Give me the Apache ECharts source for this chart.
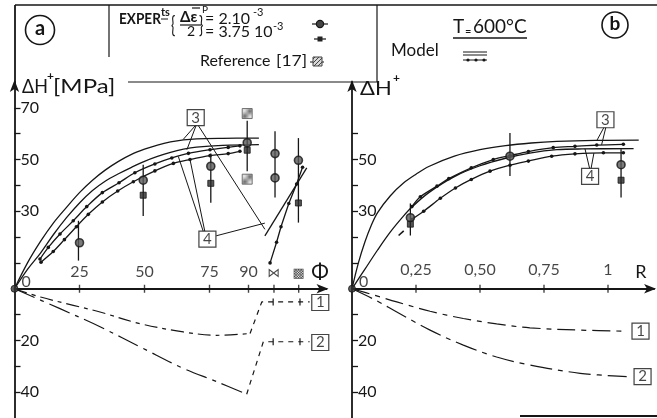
<!DOCTYPE html>
<html><head><meta charset="utf-8">
<script src="https://cdn.jsdelivr.net/npm/echarts@6/dist/echarts.min.js"></script>
<style>html,body{margin:0;padding:0;background:#fff}#c{width:657px;height:418px}</style>
</head><body><div id="c"></div>
<script>
// ================= DATA =================
// ---- Panel (a): ΔH+ [MPa] versus Φ ----
const aXTickValues = [25, 50, 75, 90, 99.8, 109.3];
const aXTickLabels = ['25', '50', '75', '90', '⋈', '▩'];
const aYLabelValues = [70, 50, 30, -20, -40];
const aYTickValues = [-40, -30, -20, -10, 10, 20, 30, 40, 50, 60, 70];

// model curves (plain) labelled 3
const aModelTop = [[0,0],[5,10],[10,18.3],[15,25.5],[20,31.5],[25,37.2],[30,42],[35,46],[40,49.3],[45,52],[50,54],[55,55.6],[60,56.8],[65,57.6],[70,58],[80,58.2],[94,58.3]];
const aModelMid = [[0,0],[5,7.5],[10,13.8],[15,21],[20,27.5],[25,33.2],[30,38],[35,41.7],[40,44.5],[45,47],[50,49.3],[55,51.2],[60,52.8],[65,54],[70,54.8],[80,55.5],[94,55.8]];
// model curves with dots labelled 4
const aDotUpper = [[9.8,11.5],[13,16],[17.5,21.2],[22.6,26.3],[27.8,31.8],[33.8,37.2],[40.2,41],[46.3,44.9],[54,48.3],[60.5,50.6],[66.9,52.4],[75.2,53.8],[82.2,54.7],[86.7,55.3]];
const aDotLower = [[10.2,10.3],[14.9,14.4],[19.2,19],[23.8,24],[28.4,28.8],[33.8,33.6],[39.7,37.8],[45.7,41.4],[54,45.6],[61.1,48.5],[67.5,50],[75.2,51.5],[82.2,52.3],[86.7,53.2]];
// branches after the non-proportional step
const aBranchPlain = [[96.3,20.5],[112.4,46.8]];
const aBranchDots = [[98.3,10],[100.8,18],[102.5,24],[105.5,33],[108.5,40.5],[110.8,47]];
// negative curves 1 and 2
const aNeg1Curve = [[0,0],[10,-3.2],[22.6,-6.4],[32.9,-9],[48.3,-13.5],[64.9,-16.7],[77.7,-18],[90.6,-17.3]];
const aNeg1Step = [[90.6,-17.3],[95.1,-5.1],[113.5,-5.1]];
const aNeg1Ticks = [[99.5,-5.1],[109.8,-5.1]];
const aNeg2Curve = [[0,0],[17.5,-7.7],[32.9,-14.7],[49.5,-23.1],[64.9,-30.8],[77.7,-35.9],[89.3,-40.8]];
const aNeg2Step = [[89.3,-40.8],[95.7,-20.5],[113.5,-20.5]];
const aNeg2Ticks = [[99.5,-20.5],[109.8,-20.5]];
// experiments
const aCircleX = [25, 49.5, 75.5, 89.5, 100.2, 100.2, 109.2];
const aCircleY = [17.8, 42, 47.4, 56.5, 52.3, 42.9, 49.7];
const aSquareX = [49.5, 75.5, 89.5, 109.2];
const aSquareY = [36.2, 40.8, 53.6, 33.2];
const aRefX = [89.5, 89.5];
const aRefY = [67.8, 42.4];
const aErrX = [24.6, 49.5, 75.5, 89.5, 100.2, 109.2];
const aErrLo = [10.9, 28.2, 33.3, 45.5, 35.3, 25.6];
const aErrHi = [26.3, 48, 52.3, 65, 60.9, 58.3];
// call-out boxes and leaders
const aBoxText = ['3', '4', '1', '2'];
const aBoxPos = [[69.7,66.2],[74.2,19.2],[117.6,-5.3],[117.6,-20.8]];
const aLeaders = [
  [[69.7,63.3],[64.9,57.8]], [[69.9,63.3],[66.3,53.8]], [[70.6,63.3],[96.3,23]],
  [[72.6,22.2],[63,51.2]], [[73.2,22.2],[67.5,50]], [[77.6,20.5],[96.3,25.4]]
];

// ---- Panel (b): ΔH+ versus R ----
const bXTickValues = [0.25, 0.5, 0.75, 1];
const bXTickLabels = ['0,25', '0,50', '0,75', '1'];
const bYLabelValues = [50, 30, -20, -40];
const bYTickValues = [-40, -30, -20, -10, 10, 20, 30, 40, 50, 60];
const bModelTop = [[0,0],[0.025,10],[0.05,18],[0.075,24.5],[0.1,29.5],[0.15,36],[0.2,40.8],[0.25,44.3],[0.3,47.3],[0.4,51.3],[0.5,53.8],[0.6,55.4],[0.7,56.4],[0.8,57],[0.95,57.4],[1.12,57.5]];
const bModelMid = [[0,0],[0.05,7.5],[0.1,15],[0.15,22],[0.2,28],[0.234,31.6],[0.3,37.2],[0.4,43.4],[0.5,47.6],[0.6,50.5],[0.7,52.6],[0.8,53.8],[0.9,54.1],[1.1,54.2]];
const bDotUpper = [[0.234,31.8],[0.267,35.6],[0.332,39.7],[0.378,42.6],[0.466,46.8],[0.552,50],[0.617,51.5],[0.689,53.1],[0.786,54.6],[0.871,55.1],[0.956,55.6],[1.06,55.9]];
const bDotLower = [[0.234,26.9],[0.28,30],[0.345,35],[0.404,39],[0.466,42.3],[0.539,45.5],[0.617,47.8],[0.689,49.4],[0.78,51.3],[0.871,52.2],[0.982,52.6],[1.06,52.6]];
const bStub = [[0.182,20.6],[0.202,22.4]];
const bNeg1 = [[0,0],[0.088,-2.5],[0.175,-5.1],[0.305,-8.7],[0.435,-11.5],[0.565,-13.6],[0.695,-15.1],[0.891,-16],[1.073,-16.4]];
const bNeg2 = [[0,0],[0.088,-4.2],[0.175,-9],[0.305,-16],[0.435,-21.8],[0.565,-26.4],[0.695,-29.5],[0.891,-32.7],[1.073,-34]];
const bCircleX = [0.228, 0.617, 1.051];
const bCircleY = [27.5, 51.3, 48];
const bSquareX = [0.228, 1.051];
const bSquareY = [25, 42];
const bErrX = [0.228, 0.617, 1.051];
const bErrLo = [20.6, 43.6, 35.3];
const bErrHi = [33, 60.3, 54];
const bBoxText = ['3', '4', '1', '2'];
const bBoxPos = [[0.99,65.4],[0.93,43.5],[1.127,-16.4],[1.135,-34]];
const bLeaders = [
  [[0.985,62.6],[0.956,57.3]], [[0.992,62.6],[0.975,55.7]],
  [[0.928,46.6],[0.91,54.2]], [[0.934,46.6],[0.945,52.5]]
];

// ================= CHART =================
const INK = '#161616';
const FONT = 'Lato, "DejaVu Sans", sans-serif';

const hatch = document.createElement('canvas');
hatch.width = 4; hatch.height = 4;
(function(){const c=hatch.getContext('2d');c.fillStyle='#d8d8d8';c.fillRect(0,0,4,4);c.strokeStyle='#444';c.lineWidth=1;c.beginPath();c.moveTo(0,4);c.lineTo(4,0);c.stroke();})();
const hatchFill = {image: hatch, repeat: 'repeat'};

const zip = (xs, ys) => xs.map((x, i) => [x, ys[i]]);

function line(data, g, extra) {
  return Object.assign({
    type: 'line', xAxisIndex: g, yAxisIndex: g, data: data,
    symbol: 'none', showSymbol: false, silent: true, animation: false, z: 3,
    lineStyle: {color: INK, width: 1.3}
  }, extra || {});
}
function dotted(data, g) {
  return line(data, g, {symbol: 'circle', showSymbol: true, symbolSize: 3.6,
    itemStyle: {color: INK}, smooth: 0.3});
}
function errBars(xs, lo, hi, g) {
  return {
    type: 'custom', xAxisIndex: g, yAxisIndex: g, silent: true, animation: false, z: 4,
    data: xs.map((x, i) => [x, lo[i], hi[i]]),
    encode: {x: 0, y: [1, 2]},
    renderItem: function (params, api) {
      const p1 = api.coord([api.value(0), api.value(1)]);
      const p2 = api.coord([api.value(0), api.value(2)]);
      return {type: 'line', shape: {x1: p1[0], y1: p1[1], x2: p2[0], y2: p2[1]},
        style: {stroke: INK, lineWidth: 1.3}};
    }
  };
}
function scatter(data, g, sym, size, style) {
  return {type: 'scatter', xAxisIndex: g, yAxisIndex: g, data: data, symbol: sym,
    symbolSize: size, silent: true, animation: false, z: 5, itemStyle: style};
}
function boxes(texts, pos, g) {
  return {type: 'scatter', xAxisIndex: g, yAxisIndex: g, silent: true, animation: false, z: 6,
    symbol: 'rect', symbolSize: [17, 16],
    itemStyle: {color: '#fff', borderColor: INK, borderWidth: 1.2},
    label: {show: true, position: 'inside', color: INK, fontSize: 15, fontFamily: FONT,
      formatter: p => texts[p.dataIndex]},
    data: pos};
}
function leaders(list, g) {
  return list.map(seg => line(seg, g, {lineStyle: {color: INK, width: 1}}));
}
// x-axis ticks and tick labels placed on the zero line through the scales
function xTicks(vals, g) {
  return scatter(vals.map(v => [v, 0]), g, 'rect', [1.4, 8], {color: INK});
}
function xLabels(vals, labels, g, dist) {
  return {type: 'scatter', xAxisIndex: g, yAxisIndex: g, silent: true, animation: false, z: 6,
    symbol: 'circle', symbolSize: 1, itemStyle: {color: 'rgba(0,0,0,0)'},
    data: vals.map((v, i) => {
      const small = labels[i].length === 1 && !/[0-9]/.test(labels[i]);
      return {value: [v, 0], label: {fontSize: small ? 13 : 16, distance: small ? dist + 1 : dist}};
    }),
    label: {show: true, position: 'top', color: INK, fontFamily: FONT, fontSize: 16,
      formatter: p => labels[p.dataIndex]}};
}
function xAxis(g, max) {
  return {
    type: 'value', gridIndex: g, min: 0, max: max,
    axisLine: {onZero: true, symbol: ['none', 'arrow'], symbolSize: [7, 12], symbolOffset: [0, 2],
      lineStyle: {color: INK, width: 1.8}},
    axisTick: {show: false}, axisLabel: {show: false}, splitLine: {show: false}
  };
}
function yAxis(g, labelVals, tickVals) {
  return {
    type: 'value', gridIndex: g, min: -50, max: 80, interval: 10,
    axisLine: {onZero: false, symbol: ['none', 'arrow'], symbolSize: [7, 12], symbolOffset: [0, 2],
      lineStyle: {color: INK, width: 1.8}},
    axisTick: {show: true, inside: true, length: 6, customValues: tickVals, lineStyle: {color: INK, width: 1.3}},
    axisLabel: {show: true, inside: true, margin: 6, customValues: labelVals, color: INK,
      fontSize: 16, fontFamily: FONT, formatter: v => String(Math.abs(v))},
    splitLine: {show: false}
  };
}
const originPt = (g) => ({
  type: 'scatter', xAxisIndex: g, yAxisIndex: g, data: [[0, 0]], symbol: 'circle', symbolSize: 7,
  silent: true, animation: false, z: 6, itemStyle: {color: '#333', borderColor: INK, borderWidth: 1},
  label: {show: true, position: 'right', distance: 3, offset: [0, -7], formatter: '0', color: INK,
    fontSize: 16, fontFamily: FONT}
});
const circleStyle = {color: '#5a5a5a', borderColor: INK, borderWidth: 1.6};
const squareStyle = {color: '#2a2a2a', borderColor: INK, borderWidth: 1};
const refStyle = {color: hatchFill, borderColor: '#555', borderWidth: 1};
const SM = {smooth: 0.35};

const series = [].concat(
  // panel a, positive
  line(aModelTop, 0, SM),
  line(aModelMid, 0, SM),
  dotted(aDotUpper, 0),
  dotted(aDotLower, 0),
  line(aBranchPlain, 0),
  line(aBranchDots, 0, {symbol: 'circle', showSymbol: true, symbolSize: 3.6, itemStyle: {color: INK}}),
  // panel a, negative
  line(aNeg1Curve, 0, Object.assign({lineStyle: {color: INK, width: 1.2, type: [13, 5, 4, 5]}}, SM)),
  line(aNeg1Step, 0, {lineStyle: {color: INK, width: 1.2, type: [5, 5]}}),
  scatter(aNeg1Ticks, 0, 'rect', [1.5, 7], {color: INK}),
  line(aNeg2Curve, 0, Object.assign({lineStyle: {color: INK, width: 1.2, type: [22, 6, 4, 6]}}, SM)),
  line(aNeg2Step, 0, {lineStyle: {color: INK, width: 1.2, type: [5, 5]}}),
  scatter(aNeg2Ticks, 0, 'rect', [1.5, 7], {color: INK}),
  leaders(aLeaders, 0),
  errBars(aErrX, aErrLo, aErrHi, 0),
  scatter(zip(aCircleX, aCircleY), 0, 'circle', 8, circleStyle),
  scatter(zip(aSquareX, aSquareY), 0, 'rect', 6, squareStyle),
  scatter(zip(aRefX, aRefY), 0, 'rect', 10, refStyle),
  boxes(aBoxText, aBoxPos, 0),
  xTicks(aXTickValues, 0),
  xLabels(aXTickValues, aXTickLabels, 0, 8),
  originPt(0),
  // panel b
  line(bModelTop, 1, SM),
  line(bModelMid, 1, SM),
  dotted(bDotUpper, 1),
  dotted(bDotLower, 1),
  line(bStub, 1, {lineStyle: {color: INK, width: 1.6}}),
  line(bNeg1, 1, Object.assign({lineStyle: {color: INK, width: 1.2, type: [18, 6, 5, 6]}}, SM)),
  line(bNeg2, 1, Object.assign({lineStyle: {color: INK, width: 1.2, type: [22, 6, 5, 6]}}, SM)),
  leaders(bLeaders, 1),
  errBars(bErrX, bErrLo, bErrHi, 1),
  scatter(zip(bCircleX, bCircleY), 1, 'circle', 8, circleStyle),
  scatter(zip(bSquareX, bSquareY), 1, 'rect', 6, squareStyle),
  boxes(bBoxText, bBoxPos, 1),
  xTicks(bXTickValues, 1),
  xLabels(bXTickValues, bXTickLabels, 1, 10),
  originPt(1)
);

function T(text, x, y, size, opts) {
  opts = opts || {};
  const st = Object.assign({text: text, fontSize: size, fontFamily: FONT, fill: INK,
    align: 'left', verticalAlign: 'middle'}, opts.style || {});
  const el = {type: 'text', x: x, y: y, z: 10, silent: true, style: st};
  if (opts.scaleX) el.scaleX = opts.scaleX;
  return el;
}
function L(x1, y1, x2, y2, w) {
  return {type: 'line', z: 10, silent: true, shape: {x1, y1, x2, y2}, style: {stroke: INK, lineWidth: w || 1.2}};
}
function D(cx, cy) {
  return {type: 'circle', z: 10, silent: true, shape: {cx, cy, r: 1.6}, style: {fill: INK}};
}

const graphic = [
  // frame lines
  L(15, 5, 657, 5, 1.5), L(15, 5, 15, 86, 1.8),
  L(109, 5, 109, 57, 1.2), L(377, 5, 377, 82, 1.2), L(128, 82, 377, 82, 1.2),
  L(520, 416, 657, 416, 2),
  // panel labels
  {type: 'circle', shape: {cx: 40, cy: 30, r: 14.5}, style: {fill: 'none', stroke: INK, lineWidth: 1.6}, z: 10, silent: true},
  T('a', 40, 29, 20, {style: {align: 'center', fontWeight: 'bold'}}),
  {type: 'circle', shape: {cx: 615, cy: 25, r: 13}, style: {fill: 'none', stroke: INK, lineWidth: 1.6}, z: 10, silent: true},
  T('b', 615, 24, 19, {style: {align: 'center', fontWeight: 'bold'}}),
  // legend
  T('EXPER', 119, 19, 16, {scaleX: 0.85, style: {fontWeight: 'bold'}}),
  T('ts', 161, 12, 11, {style: {fontWeight: 'bold'}}),
  L(161, 19, 168, 19, 1),
  T('{', 171, 25, 24, {scaleX: 0.6}),
  T('Δε', 180, 17, 15, {style: {fontWeight: 'bold'}}),
  L(192, 8, 200, 8, 1.2),
  L(180, 25, 201, 25, 1.2),
  T('2', 187, 31, 14),
  T('P', 202, 10, 10),
  T('}', 199, 25, 24, {scaleX: 0.6}),
  T('= 2.10', 205, 19, 16),
  T('-3', 253, 12, 11),
  T('= 3.75 10', 205, 32, 16),
  T('-3', 273, 26, 11),
  L(312, 24, 328, 24, 1.2),
  {type: 'circle', shape: {cx: 320, cy: 24, r: 3.6}, style: {fill: '#444', stroke: INK, lineWidth: 1.2}, z: 10, silent: true},
  L(314, 39, 326, 39, 1.2),
  {type: 'rect', shape: {x: 317.5, y: 36.5, width: 5, height: 5}, style: {fill: '#222'}, z: 10, silent: true},
  T('Reference', 200, 61, 16),
  T('[17]', 276, 61, 16, {scaleX: 1.1}),
  L(310, 62, 324, 62, 1),
  {type: 'rect', shape: {x: 313, y: 57, width: 9, height: 9}, style: {fill: hatchFill, stroke: '#444', lineWidth: 1}, z: 11, silent: true},
  // axis titles
  T('ΔH', 22, 87, 20, {scaleX: 0.9}),
  T('+', 47, 76, 12, {style: {fontWeight: 'bold'}}),
  T('[MPa]', 53, 87, 20, {scaleX: 1.2}),
  T('ΔH', 360, 89, 20, {scaleX: 1.1}),
  T('+', 393, 78, 12, {style: {fontWeight: 'bold'}}),
  T('Φ', 320, 272, 21, {style: {align: 'center'}}),
  T('R', 641, 272, 18, {style: {align: 'center'}}),
  // conditions
  T('T', 453, 27, 19),
  T('=', 465, 31, 11),
  T('600°C', 473, 27, 19),
  L(453, 38, 527, 38, 1.5),
  T('Model', 391, 51, 17),
  L(463, 52, 487, 52, 1), L(463, 55, 487, 55, 1),
  L(463, 60, 487, 60, 1), D(468, 60), D(476, 60), D(484, 60)
];

const chart = echarts.init(document.getElementById('c'), null, {renderer: 'canvas'});
chart.setOption({
  backgroundColor: '#fff',
  animation: false,
  grid: [
    {left: 14.5, top: 82, width: 312, height: 338},
    {left: 352, top: 82, width: 302.08, height: 338}
  ],
  xAxis: [xAxis(0, 120), xAxis(1, 1.18)],
  yAxis: [yAxis(0, aYLabelValues, aYTickValues), yAxis(1, bYLabelValues, bYTickValues)],
  series: series,
  graphic: graphic
});
</script>
</body></html>
